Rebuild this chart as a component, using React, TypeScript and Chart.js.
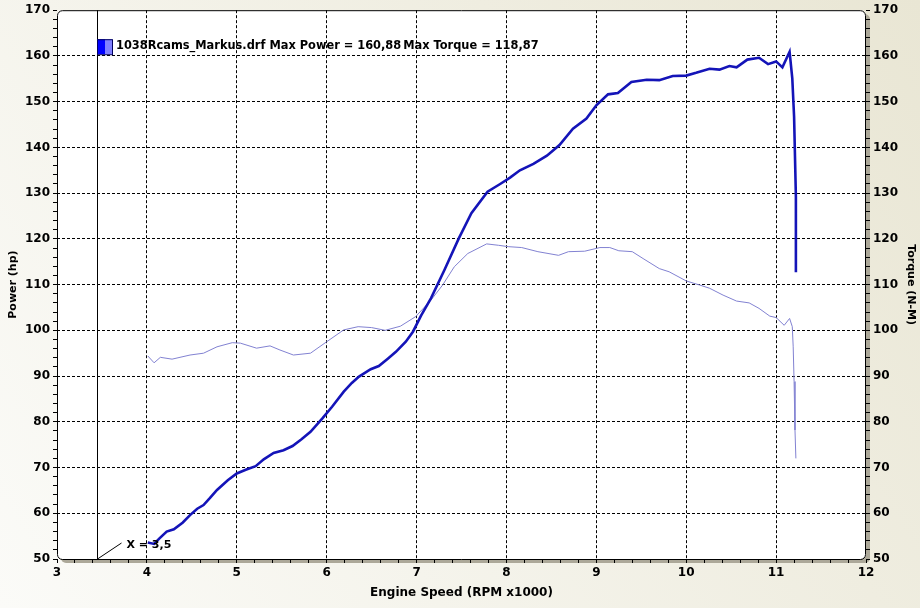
import { useEffect, useRef } from "react";
import { Chart, registerables } from "chart.js";

Chart.register(...registerables);

// Power run (rpm x1000 / hp)
const powerRpm = [
  4.01, 4.08, 4.14, 4.22, 4.30, 4.40, 4.48, 4.56, 4.63, 4.70, 4.78, 4.90, 5.00, 5.10, 5.21, 5.30,
  5.41, 5.52, 5.62, 5.72, 5.82, 5.95, 6.06, 6.19, 6.28, 6.36, 6.49, 6.58, 6.68, 6.77, 6.88, 6.96,
  7.05, 7.16, 7.31, 7.47, 7.61, 7.79, 7.93, 8.04, 8.15, 8.30, 8.45, 8.59, 8.74, 8.89, 9.00, 9.13,
  9.24, 9.39, 9.56, 9.70, 9.85, 10.00, 10.11, 10.26, 10.37, 10.48, 10.56, 10.68, 10.81, 10.91,
  11.00, 11.07, 11.15, 11.18, 11.20, 11.22, 11.22,
];
const powerHp = [
  53.6, 53.3, 54.5, 56.0, 56.5, 58.0, 59.6, 61.0, 61.8, 63.3, 65.1, 67.2, 68.7, 69.5, 70.3, 71.8,
  73.2, 73.8, 74.7, 76.2, 77.8, 80.7, 83.3, 86.6, 88.5, 89.9, 91.5, 92.2, 93.8, 95.3, 97.5, 99.7,
  103.2, 107.0, 113.2, 120.1, 125.6, 130.3, 132.0, 133.4, 135.0, 136.4, 138.2, 140.5, 144.1, 146.3, 149.2, 151.6,
  151.9, 154.3, 154.8, 154.7, 155.6, 155.7, 156.3, 157.2, 157.0, 157.8, 157.5, 159.2, 159.6, 158.2,
  158.8, 157.5, 160.9, 155.1, 146.7, 129.2, 112.7,
];

// Torque run (rpm x1000 / N-M)
const torqueRpm = [
  4.01, 4.08, 4.15, 4.28, 4.48, 4.63, 4.78, 4.95, 5.04, 5.22, 5.37, 5.48, 5.63, 5.82, 6.00, 6.19,
  6.35, 6.50, 6.65, 6.82, 6.99, 7.16, 7.29, 7.42, 7.57, 7.78, 7.91, 8.02, 8.17, 8.35, 8.58, 8.69,
  8.87, 9.04, 9.15, 9.25, 9.40, 9.52, 9.70, 9.81, 10.00, 10.15, 10.26, 10.41, 10.56, 10.70, 10.81,
  10.93, 11.00, 11.09, 11.15, 11.18, 11.19, 11.20, 11.21, 11.22,
];
const torqueNm = [
  94.4, 92.9, 94.1, 93.7, 94.6, 95.0, 96.4, 97.3, 97.2, 96.1, 96.6, 95.7, 94.6, 95.0, 97.5, 100.1,
  100.8, 100.6, 100.0, 100.9, 103.0, 106.6, 109.9, 113.9, 116.8, 118.9, 118.6, 118.3, 118.1, 117.2, 116.4, 117.2,
  117.3, 118.1, 118.1, 117.4, 117.2, 115.7, 113.5, 112.8, 110.8, 109.9, 109.2, 107.7, 106.4, 106.0, 104.8,
  103.1, 102.8, 101.1, 102.6, 100.8, 96.4, 88.8, 78.2, 72.0,
];

const rpmMin = 3;
const rpmMax = 12;
const rpmMinorStep = 0.2;
const valueMin = 50;
const valueMax = 170;
const valueMinorStep = 2;
const valueMajorStep = 10;

const runName = "1038Rcams_Markus.drf";
const maxPowerLabel = "Max Power = 160,88";
const maxTorqueLabel = "Max Torque = 118,87";
const cursorRpm = 3.44;
const cursorLabel = "X = 3,5";

const FONT = "'DejaVu Sans', Verdana, sans-serif";
const POWER_COLOR = "#1414b8";
const TORQUE_COLOR = "#8282d2";

const isMultiple = (v: number, step: number) =>
  Math.abs(v / step - Math.round(v / step)) < 1e-6;

const makeTicks = (min: number, max: number, step: number) => {
  const out: { value: number }[] = [];
  const n = Math.round((max - min) / step);
  for (let i = 0; i <= n; i++) out.push({ value: +(min + i * step).toFixed(4) });
  return out;
};

const framePlugin = {
  id: "dynoFrame",
  beforeDraw(chart: any) {
    const { ctx, width, height, chartArea: a } = chart;
    ctx.save();
    const g = ctx.createLinearGradient(0, height, width, 0);
    g.addColorStop(0, "#fbfbf8");
    g.addColorStop(1, "#e9e6d4");
    ctx.fillStyle = g;
    ctx.fillRect(0, 0, width, height);
    const w = a.right - a.left;
    const h = a.bottom - a.top;
    ctx.fillStyle = "#aca899";
    ctx.beginPath();
    ctx.roundRect(a.left + 4, a.top + 4, w, h, 5);
    ctx.fill();
    ctx.fillStyle = "#ffffff";
    ctx.beginPath();
    ctx.roundRect(a.left, a.top, w, h, 5);
    ctx.fill();
    ctx.restore();
  },
  afterDraw(chart: any) {
    const { ctx, chartArea: a } = chart;
    const xs = chart.scales.x;
    ctx.save();
    // frame outline
    ctx.strokeStyle = "#000000";
    ctx.lineWidth = 1;
    ctx.beginPath();
    ctx.roundRect(a.left + 0.5, a.top + 0.5, a.right - a.left - 1, a.bottom - a.top, 5);
    ctx.stroke();

    // cursor line + readout
    const cx = Math.round(xs.getPixelForValue(cursorRpm)) + 0.5;
    ctx.beginPath();
    ctx.moveTo(cx, a.top);
    ctx.lineTo(cx, a.bottom);
    ctx.stroke();
    ctx.beginPath();
    ctx.moveTo(cx, a.bottom);
    ctx.lineTo(cx + 24, a.bottom - 16);
    ctx.stroke();
    ctx.fillStyle = "#000000";
    ctx.font = `bold 11px ${FONT}`;
    ctx.textBaseline = "middle";
    ctx.textAlign = "left";
    ctx.fillText(cursorLabel, cx + 29, a.bottom - 14);

    // legend swatch + text
    const lx = a.left + 40;
    const ly = a.top + 29;
    ctx.fillStyle = "#0000ff";
    ctx.fillRect(lx, ly, 8, 15);
    ctx.fillStyle = "#8080ff";
    ctx.fillRect(lx + 8, ly, 7, 15);
    ctx.strokeStyle = "#000060";
    ctx.strokeRect(lx + 0.5, ly + 0.5, 15, 15);
    ctx.fillStyle = "#000000";
    ctx.font = `bold 11.4px ${FONT}`;
    const txt = `${runName} ${maxPowerLabel}`;
    ctx.fillText(txt, lx + 19, ly + 7);
    const tw = ctx.measureText(txt + " ").width;
    ctx.fillText(maxTorqueLabel, lx + 19 + tw - 2, ly + 7);
    ctx.restore();
  },
};

export default function App() {
  const canvasRef = useRef<HTMLCanvasElement>(null);
  const chartRef = useRef<Chart | null>(null);

  useEffect(() => {
    document.body.style.margin = "0";
    if (!canvasRef.current) return;
    if (chartRef.current) chartRef.current.destroy();

    const tickFont = { family: FONT, size: 12, weight: "bold" as const };
    const titleFont = { family: FONT, size: 11, weight: "bold" as const };

    const valueTickLabel = (v: any) => (isMultiple(Number(v), valueMajorStep) ? String(v) : "");
    const valueGridColor = (c: any) => {
      const v = c.tick?.value;
      if (v === undefined || v === valueMin || v === valueMax) return "rgba(0,0,0,0)";
      return isMultiple(v, valueMajorStep) ? "#000000" : "rgba(0,0,0,0)";
    };

    chartRef.current = new Chart(canvasRef.current, {
      type: "line",
      data: {
        datasets: [
          {
            label: "Power",
            data: powerRpm.map((x, i) => ({ x, y: powerHp[i] })),
            borderColor: POWER_COLOR,
            borderWidth: 2.6,
            pointRadius: 0,
            tension: 0,
            yAxisID: "y",
          },
          {
            label: "Torque",
            data: torqueRpm.map((x, i) => ({ x, y: torqueNm[i] })),
            borderColor: TORQUE_COLOR,
            borderWidth: 1,
            pointRadius: 0,
            tension: 0,
            yAxisID: "y2",
          },
        ],
      },
      options: {
        animation: false,
        responsive: false,
        devicePixelRatio: 1,
        layout: { padding: { top: 9, left: 0, right: 0, bottom: 0 } },
        plugins: {
          legend: { display: false },
          tooltip: { enabled: false },
        },
        scales: {
          x: {
            type: "linear",
            min: rpmMin,
            max: rpmMax,
            afterFit: (s: any) => { s.height = 49; },
            afterBuildTicks: (s: any) => { s.ticks = makeTicks(rpmMin, rpmMax, rpmMinorStep); },
            ticks: {
              autoSkip: false,
              maxRotation: 0,
              color: "#000000",
              font: tickFont,
              padding: 3,
              callback: (v: any) => (isMultiple(Number(v), 1) ? String(Math.round(Number(v))) : ""),
            },
            grid: {
              color: (c: any) => {
                const v = c.tick?.value;
                if (v === undefined || v === rpmMin || v === rpmMax) return "rgba(0,0,0,0)";
                return isMultiple(v, 1) ? "#000000" : "rgba(0,0,0,0)";
              },
              tickColor: "#000000",
              tickLength: 4,
              tickBorderDash: [],
            },
            border: { display: false, dash: [3, 2] },
            title: {
              display: true,
              text: "Engine Speed (RPM x1000)",
              color: "#000000",
              font: { family: FONT, size: 12, weight: "bold" as const },
              padding: { top: 0, bottom: 8 },
            },
          },
          y: {
            type: "linear",
            position: "left",
            min: valueMin,
            max: valueMax,
            afterFit: (s: any) => { s.width = 57; },
            afterBuildTicks: (s: any) => { s.ticks = makeTicks(valueMin, valueMax, valueMinorStep); },
            ticks: { autoSkip: false, color: "#000000", font: tickFont, padding: 3, callback: valueTickLabel },
            grid: { color: valueGridColor, tickColor: "#000000", tickLength: 4, tickBorderDash: [] },
            border: { display: false, dash: [3, 2] },
            title: {
              display: true,
              text: "Power (hp)",
              color: "#000000",
              font: titleFont,
              padding: { top: 7, bottom: 0 },
            },
          },
          y2: {
            type: "linear",
            position: "right",
            min: valueMin,
            max: valueMax,
            afterFit: (s: any) => { s.width = 54; },
            afterBuildTicks: (s: any) => { s.ticks = makeTicks(valueMin, valueMax, valueMinorStep); },
            ticks: { autoSkip: false, color: "#000000", font: tickFont, padding: 3, callback: valueTickLabel },
            grid: { drawOnChartArea: false, tickColor: "#000000", tickLength: 4, tickBorderDash: [] },
            border: { display: false },
            title: {
              display: true,
              text: "Torque (N-M)",
              color: "#000000",
              font: titleFont,
              padding: { top: 3, bottom: 0 },
            },
          },
        },
      },
      plugins: [framePlugin],
    });

    return () => {
      chartRef.current?.destroy();
      chartRef.current = null;
    };
  }, []);

  return (
    <div style={{ position: "relative", width: "920px", height: "608px" }}>
      <canvas
        ref={canvasRef}
        width={920}
        height={608}
        style={{ width: "920px", height: "608px", display: "block" }}
        role="img"
        aria-label="Dyno chart of power and torque against engine speed"
      />
    </div>
  );
}
